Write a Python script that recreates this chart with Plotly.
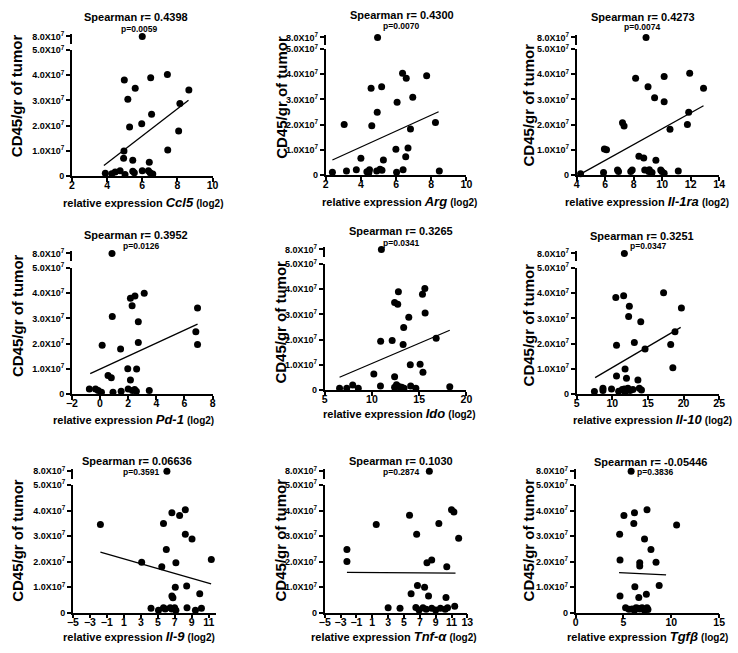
import plotly.graph_objects as go

W, H = 738, 653
UNIT = 1e7  # CD45 values below are in units of 10^7 cells / g tumour

genes = ["Ccl5", "Arg", "Il-1ra", "Pd-1", "Ido", "Il-10", "Il-9", "Tnf-α", "Tgfβ"]
spearman_r = ["0.4398", "0.4300", "0.4273", "0.3952", "0.3265", "0.3251", "0.06636", "0.1030", "-0.05446"]
p_values = ["0.0059", "0.0070", "0.0074", "0.0126", "0.0341", "0.0347", "0.3591", "0.2874", "0.3836"]

y_tick_vals = [0, 1, 2, 3, 4, 5]
y_tick_text = ["0", "1.0X10<sup>7</sup>", "2.0X10<sup>7</sup>", "3.0X10<sup>7</sup>",
               "4.0X10<sup>7</sup>", "5.0X10<sup>7</sup>"]
y_break_val = 8
y_break_text = "8.0X10<sup>7</sup>"

x_ticks = [
    [2, 4, 6, 8, 10], [2, 4, 6, 8, 10], [4, 6, 8, 10, 12, 14],
    [-2, 0, 2, 4, 6, 8], [5, 10, 15, 20], [5, 10, 15, 20, 25],
    [-5, -3, -1, 1, 3, 5, 7, 9, 11], [-5, -3, -1, 1, 3, 5, 7, 9, 11, 13], [0, 5, 10, 15],
]
x_ranges = [[2, 10], [2, 10], [4, 14], [-2, 8], [5, 20], [5, 25], [-5, 11.8], [-5, 13], [0, 15]]

# ---- data (relative expression log2, CD45/gr of tumour in 1e7) ----
ccl5_x = [6.0, 4.98, 6.48, 7.43, 5.6, 5.18, 8.65, 8.14, 6.53, 5.28, 5.97, 8.07, 7.45, 4.96, 4.94, 5.46, 6.40,
          3.9, 4.27, 4.46, 4.74, 5.02, 5.46, 5.55, 6.0, 6.35, 6.45, 6.6]
ccl5_y = [8.0, 3.81, 3.90, 4.03, 3.49, 3.05, 3.42, 2.88, 2.45, 1.94, 2.07, 1.78, 1.03, 0.99, 0.70, 0.62, 0.54,
          0.1, 0.08, 0.15, 0.2, 0.05, 0.18, 0.12, 0.2, 0.2, 0.12, 0.07]
ccl5_fit_x = [3.82, 8.63]
ccl5_fit_y = [0.41, 3.01]

arg_x = [4.95, 6.37, 6.58, 7.74, 4.58, 5.18, 6.95, 6.06, 4.93, 3.05, 4.62, 6.82, 8.24, 4.0, 5.99, 6.68, 6.55, 5.28,
         2.38, 3.18, 3.74, 4.34, 4.49, 4.9, 5.09, 6.03, 6.4, 8.46, 4.45, 5.2]
arg_y = [8.0, 4.04, 3.84, 3.94, 3.45, 3.51, 3.09, 2.89, 2.49, 2.0, 1.95, 1.82, 2.08, 0.66, 1.02, 1.07, 0.72, 0.59,
         0.1, 0.15, 0.2, 0.12, 0.2, 0.15, 0.22, 0.1, 0.2, 0.15, 0.08, 0.18]
arg_fit_x = [2.38, 8.42]
arg_fit_y = [0.59, 2.51]

il1ra_x = [8.87, 8.14, 10.14, 11.93, 9.01, 9.47, 10.14, 12.9, 11.86, 11.77, 10.55, 7.22, 7.33, 5.95, 6.1, 8.37, 8.71,
           9.56, 4.28, 5.89, 6.87, 6.94, 7.8, 7.9, 8.78, 9.06, 9.29, 9.9, 9.98, 10.14, 11.13, 9.1]
il1ra_y = [8.0, 3.84, 3.91, 4.04, 3.51, 3.07, 2.91, 3.45, 2.49, 2.0, 1.81, 2.07, 1.94, 1.03, 1.0, 0.74, 0.67,
           0.58, 0.04, 0.09, 0.19, 0.13, 0.13, 0.19, 0.19, 0.13, 0.09, 0.19, 0.13, 0.06, 0.15, 0.2]
il1ra_fit_x = [4.3, 12.9]
il1ra_fit_y = [0.04, 2.75]

pd1_x = [0.85, 2.16, 2.48, 3.14, 2.28, 0.87, 6.93, 2.72, 6.81, 6.93, 0.15, 1.46, 2.72, 1.97, 2.6, 0.57, 0.8, 2.16,
         -0.76, -0.32, -0.13, 0.1, 0.92, 1.5, 2.0, 2.3, 2.46, 2.58, 3.5]
pd1_y = [8.0, 3.80, 3.89, 4.0, 3.5, 3.07, 3.41, 2.87, 2.47, 1.96, 1.93, 1.78, 2.04, 1.0, 0.99, 0.73, 0.64, 0.55,
         0.19, 0.19, 0.13, 0.06, 0.06, 0.1, 0.19, 0.13, 0.17, 0.1, 0.13]
pd1_fit_x = [-0.7, 6.93]
pd1_fit_y = [0.8, 2.77]

ido_x = [11.0, 12.8, 15.6, 15.35, 12.4, 12.73, 13.9, 15.63, 13.36, 13.3, 10.92, 12.14, 16.8, 10.2, 12.4, 14.06,
         15.1, 15.4, 6.57, 7.33, 7.96, 8.55, 10.9, 12.4, 12.7, 12.9, 13.15, 13.4, 14.1, 14.65, 18.24, 12.6]
ido_y = [8.0, 3.9, 4.03, 3.8, 3.48, 3.41, 2.89, 3.06, 2.48, 1.8, 1.93, 1.96, 2.05, 0.63, 0.52, 1.0,
         1.02, 0.7, 0.06, 0.06, 0.19, 0.06, 0.15, 0.1, 0.15, 0.12, 0.1, 0.06, 0.15, 0.06, 0.12, 0.2]
ido_fit_x = [6.57, 18.24]
ido_fit_y = [0.5, 2.37]

il10_x = [11.7, 10.5, 11.6, 17.2, 19.7, 12.4, 12.3, 14.0, 18.8, 13.1, 10.6, 18.2, 14.6, 11.8, 18.5, 10.6, 12.0,
          13.6, 7.5, 8.7, 8.7, 9.9, 10.9, 11.4, 11.7, 12.2, 12.5, 12.9, 13.8, 14.1, 11.8]
il10_y = [8.0, 3.83, 3.9, 4.02, 3.41, 3.48, 3.07, 2.87, 2.47, 2.04, 1.93, 1.96, 1.78, 0.99, 1.03, 0.71, 0.62,
          0.55, 0.09, 0.22, 0.13, 0.19, 0.1, 0.17, 0.19, 0.22, 0.13, 0.17, 0.22, 0.15, 0.06]
il10_fit_x = [7.6, 19.6]
il10_fit_y = [0.64, 2.64]

il9_x = [6.07, -1.76, 5.67, 6.66, 7.57, 8.24, 8.24, 9.03, 6.0, 7.13, 5.47, 3.1, 11.3, 7.06, 8.4, 6.66, 6.78, 9.94,
         4.2, 5.08, 5.67, 5.87, 6.46, 6.66, 6.98, 7.13, 8.44, 9.43, 10.14]
il9_y = [8.0, 3.45, 3.49, 3.91, 3.81, 4.03, 3.07, 2.89, 2.47, 1.96, 1.8, 1.98, 2.08, 1.0, 1.04, 0.65, 0.58, 0.74,
         0.17, 0.09, 0.19, 0.14, 0.19, 0.14, 0.19, 0.09, 0.19, 0.09, 0.17]
il9_fit_x = [-1.76, 11.28]
il9_fit_y = [2.37, 1.13]

tnfa_x = [8.2, -2.2, -2.2, 1.5, 5.7, 6.6, 9.4, 11.0, 11.3, 11.9, 7.9, 8.5, 10.4, 6.7, 7.6, 5.9, 8.1, 10.3,
          3.0, 4.5, 6.5, 6.9, 7.4, 7.8, 8.5, 9.0, 9.6, 10.2, 10.5, 11.4]
tnfa_y = [8.0, 2.47, 2.0, 3.45, 3.82, 3.07, 3.49, 4.03, 3.94, 2.92, 1.96, 2.06, 1.8, 1.06, 1.0, 0.74, 0.65, 0.59,
          0.19, 0.17, 0.2, 0.1, 0.19, 0.13, 0.17, 0.1, 0.17, 0.13, 0.19, 0.25]
tnfa_fit_x = [-2.2, 11.5]
tnfa_fit_y = [1.58, 1.55]

tgfb_x = [5.8, 5.05, 6.15, 7.46, 6.08, 4.6, 7.2, 10.55, 7.87, 4.64, 6.7, 6.7, 8.4, 6.19, 8.73, 4.64, 6.6, 7.39,
          5.22, 5.9, 6.32, 6.7, 6.94, 7.2, 7.46, 7.56, 5.57, 6.15, 6.53]
tgfb_y = [8.0, 3.81, 3.91, 4.03, 3.49, 3.07, 2.89, 3.43, 2.47, 2.06, 1.96, 1.83, 1.98, 1.02, 1.06, 0.65, 0.59, 0.72,
          0.19, 0.14, 0.19, 0.14, 0.19, 0.09, 0.19, 0.12, 0.13, 0.09, 0.17]
tgfb_fit_x = [4.54, 9.45]
tgfb_fit_y = [1.57, 1.48]

panel_data = [
    (ccl5_x, ccl5_y, ccl5_fit_x, ccl5_fit_y),
    (arg_x, arg_y, arg_fit_x, arg_fit_y),
    (il1ra_x, il1ra_y, il1ra_fit_x, il1ra_fit_y),
    (pd1_x, pd1_y, pd1_fit_x, pd1_fit_y),
    (ido_x, ido_y, ido_fit_x, ido_fit_y),
    (il10_x, il10_y, il10_fit_x, il10_fit_y),
    (il9_x, il9_y, il9_fit_x, il9_fit_y),
    (tnfa_x, tnfa_y, tnfa_fit_x, tnfa_fit_y),
    (tgfb_x, tgfb_y, tgfb_fit_x, tgfb_fit_y),
]

# ---- layout geometry in pixels: (x_left, x_right, y_of_0, y_of_5e7, y_of_8e7)
geom = [
    (67, 210, 172, 44, 30), (325, 468, 171, 43, 31), (580, 725, 171, 43, 31),
    (67, 210, 394, 266, 251), (324, 468, 390, 262, 247), (580, 725, 394, 266, 251),
    (68, 213, 617, 487, 473), (324, 469, 617, 487, 473), (579, 725, 617, 487, 473),
]
title_pos = [  # (x, y title, x p, y p)
    (132, 10, 135, 22), (403, 8, 402, 19), (648, 10, 647, 20),
    (132, 232, 137, 243), (402, 228, 402, 240), (647, 233, 653, 243),
    (133, 463, 137, 474), (402, 463, 402, 474), (655, 464, 660, 474),
]
ytitle_pos = [(11, 90), (280, 92), (531, 100), (11, 314), (279, 321), (531, 324),
              (11, 543), (279, 543), (531, 543)]
xtitle_pos = [(139, 199), (400, 198), (652, 198), (130, 420), (400, 414), (657, 420),
              (135, 641), (394, 641), (652, 641)]

FONT = "Arial, Liberation Sans, sans-serif"
BLACK = "#000000"

fig = go.Figure()
layout = dict(width=W, height=H, margin=dict(l=0, r=0, t=0, b=0), autosize=False,
              paper_bgcolor="white", plot_bgcolor="white", showlegend=False,
              font=dict(family=FONT, color=BLACK))
annotations = []

def px_x(p):
    return p / W

def px_y(p):
    return 1 - p / H

for i, (xs, ys, fx, fy) in enumerate(panel_data):
    xl, xr, y0, y5, y8 = geom[i]
    xa = f"x{i + 1}" if i else "x"
    xname = f"xaxis{i + 1}" if i else "xaxis"
    lo = 2 * i + 1
    up = 2 * i + 2
    ylo = f"y{lo}" if lo > 1 else "y"
    yloname = f"yaxis{lo}" if lo > 1 else "yaxis"
    yup = f"y{up}"
    yupname = f"yaxis{up}"

    lower_x = [x for x, y in zip(xs, ys) if y <= 5]
    lower_y = [y * UNIT for y in ys if y <= 5]
    upper_x = [x for x, y in zip(xs, ys) if y > 5]
    upper_y = [y * UNIT for y in ys if y > 5]

    marker = dict(color=BLACK, size=7, symbol="circle")
    fig.add_trace(go.Scatter(x=lower_x, y=lower_y, mode="markers", marker=marker,
                             xaxis=xa, yaxis=ylo, cliponaxis=False, hoverinfo="skip"))
    fig.add_trace(go.Scatter(x=upper_x, y=upper_y, mode="markers", marker=marker,
                             xaxis=xa, yaxis=yup, cliponaxis=False, hoverinfo="skip"))
    fig.add_trace(go.Scatter(x=fx, y=[v * UNIT for v in fy], mode="lines",
                             line=dict(color=BLACK, width=1.3),
                             xaxis=xa, yaxis=ylo, cliponaxis=False, hoverinfo="skip"))

    axis_common = dict(showline=True, linecolor=BLACK, linewidth=1.6, ticks="outside",
                       tickwidth=1.6, ticklen=4, tickcolor=BLACK, showgrid=False,
                       zeroline=False, fixedrange=True)
    layout[xname] = dict(domain=[px_x(xl), px_x(xr)], anchor=ylo, range=x_ranges[i],
                         tickmode="array", tickvals=x_ticks[i], ticklabelstandoff=-5,
                         tickfont=dict(family=FONT, size=10.5, color=BLACK, weight="bold"),
                         **axis_common)
    layout[yloname] = dict(domain=[px_y(y0), px_y(y5)], anchor=xa, range=[0, 5 * UNIT],
                           tickmode="array", tickvals=[v * UNIT for v in y_tick_vals],
                           ticktext=y_tick_text,
                           tickfont=dict(family=FONT, size=9, color=BLACK, weight="bold"),
                           **axis_common)
    per_px = 5 * UNIT / (y0 - y5)
    top_px, bot_px = y8 - 2, y8 + 8
    layout[yupname] = dict(domain=[px_y(bot_px), px_y(top_px)], anchor=xa,
                           range=[y_break_val * UNIT - 8 * per_px, y_break_val * UNIT + 2 * per_px],
                           tickmode="array", tickvals=[y_break_val * UNIT], ticktext=[y_break_text],
                           tickfont=dict(family=FONT, size=9, color=BLACK, weight="bold"),
                           **axis_common)

    tx, ty, ppx, ppy = title_pos[i]
    annotations.append(dict(text=f"<b>Spearman r= {spearman_r[i]}</b>", x=px_x(tx), y=px_y(ty),
                            xref="paper", yref="paper", showarrow=False, xanchor="center",
                            yanchor="middle", font=dict(family=FONT, size=11, color=BLACK)))
    annotations.append(dict(text=f"<b>p={p_values[i]}</b>", x=px_x(ppx), y=px_y(ppy),
                            xref="paper", yref="paper", showarrow=False, xanchor="center",
                            yanchor="middle", font=dict(family=FONT, size=8.5, color=BLACK)))
    yx, yy = ytitle_pos[i]
    annotations.append(dict(text="<b>CD45/gr of tumor</b>", x=px_x(yx), y=px_y(yy),
                            xref="paper", yref="paper", showarrow=False, textangle=-90,
                            xanchor="center", yanchor="middle",
                            font=dict(family=FONT, size=15, color=BLACK)))
    xx, xy = xtitle_pos[i]
    annotations.append(dict(
        text=(f"<b>relative expression <span style='font-size:13px'><i>{genes[i]}</i></span>"
              f" <span style='font-size:10px'>(log2)</span></b>"),
        x=px_x(xx), y=px_y(xy), xref="paper", yref="paper", showarrow=False,
        xanchor="center", yanchor="middle", font=dict(family=FONT, size=11, color=BLACK)))

layout["annotations"] = annotations
fig.update_layout(**layout)
fig.write_html("out.html", config={"displayModeBar": False},
               post_script="document.body.style.margin='0px';")
